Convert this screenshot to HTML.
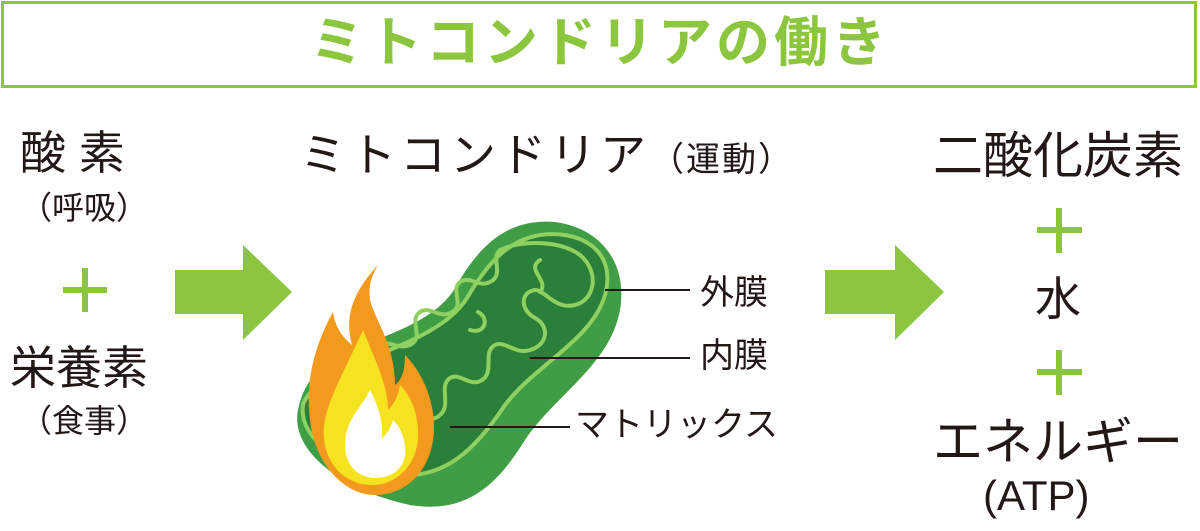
<!DOCTYPE html>
<html><head><meta charset="utf-8"><style>
html,body{margin:0;padding:0;background:#fff;}
body{width:1200px;height:531px;position:relative;overflow:hidden;font-family:"Liberation Sans","Noto Sans CJK JP",sans-serif;color:#231815;}
.t{position:absolute;white-space:nowrap;line-height:1;}
</style></head><body>
<div style="position:absolute;left:1px;top:1px;width:1190px;height:81px;border:3px solid #8cc63f;"></div>
<div class="t" style="left:0;width:1200px;text-align:center;top:16px;font-size:54px;font-weight:bold;color:#8cc63f;letter-spacing:4px;">ミトコンドリアの働き</div>

<div class="t" style="left:20px;top:130px;font-size:46px;">酸 素</div>
<div class="t" style="left:20px;top:192px;font-size:32px;">（呼吸）</div>
<div class="t" style="left:10px;top:345px;font-size:46px;">栄養素</div>
<div class="t" style="left:20px;top:405px;font-size:32px;">（食事）</div>
<div class="t" style="left:300px;top:132px;font-size:46px;letter-spacing:4px;">ミトコンドリア<span style="font-size:34px;letter-spacing:2px">（運動）</span></div>

<div class="t" style="left:933px;top:131px;font-size:50px;">二酸化炭素</div>
<div class="t" style="left:1035px;top:276px;font-size:46px;">水</div>
<div class="t" style="left:933px;top:417px;font-size:50px;">エネルギー</div>
<div class="t" style="left:983px;top:475px;font-size:42px;">(ATP)</div>

<div class="t" style="left:700px;top:276px;font-size:34px;">外膜</div>
<div class="t" style="left:700px;top:339px;font-size:34px;">内膜</div>
<div class="t" style="left:575px;top:408px;font-size:34px;">マトリックス</div>

<svg width="1200" height="531" style="position:absolute;left:0;top:0">
<g stroke="#8cc63f" stroke-width="6">
<line x1="63" y1="290" x2="107" y2="290"/><line x1="85" y1="268" x2="85" y2="312"/>
<line x1="1037" y1="230" x2="1082" y2="230"/><line x1="1059" y1="208" x2="1059" y2="253"/>
<line x1="1037" y1="372" x2="1082" y2="372"/><line x1="1059" y1="350" x2="1059" y2="395"/>
</g>
<polygon fill="#8cc63f" points="175,270 243,270 243,245 292,292 243,340 243,314 175,314"/>
<polygon fill="#8cc63f" points="825,270 895,270 895,245 944,292 895,340 895,314 825,314"/>

<path fill="#3f9e45" d="M298,410 C290,450 340,490 410,505 C470,515 500,480 525,440 C555,395 610,365 620,310 C628,262 600,228 555,222 C505,218 478,248 455,288 C435,322 385,335 340,355 C312,370 302,390 298,410 Z"/>
<path fill="#2a7f3a" stroke="#8fd060" stroke-width="4" d="M303,405 C298,440 345,470 400,475 C445,478 475,450 505,405 C535,365 592,340 605,295 C615,258 592,235 553,234 C512,234 488,262 467,298 C447,330 400,345 352,366 C322,380 307,392 303,405 Z"/>
<g fill="none" stroke="#8fd060" stroke-width="4" stroke-linecap="round" stroke-linejoin="round">
<path d="M500,250 C520,240 560,240 580,255 C600,272 595,300 575,305 C555,310 545,290 535,290 C520,292 520,310 535,318 C550,326 548,345 530,350 C515,355 505,340 495,345 C482,352 495,372 482,380 C470,388 460,372 450,378 C438,386 452,405 440,415 C430,425 420,410 412,418"/>
<path d="M500,250 C490,258 505,275 490,282 C478,288 470,275 460,282 C450,290 465,305 452,312 C440,320 430,305 420,312 C408,320 425,338 410,345 C398,350 390,340 382,345 C372,352 385,370 372,375"/>
<path d="M540,260 C525,270 550,280 540,292 M470,330 C485,335 490,318 478,312"/>
</g>
<g stroke="#231815" stroke-width="2">
<line x1="605" y1="290" x2="690" y2="290"/>
<line x1="530" y1="358" x2="690" y2="358"/>
<line x1="450" y1="427" x2="570" y2="427"/>
</g>
<path fill="#f39a1e" d="M378,265 C350,295 345,320 352,345 C340,335 335,325 333,312 C315,345 305,380 310,420 C315,465 345,495 375,495 C410,495 435,465 434,425 C433,395 420,370 405,355 C405,370 402,380 395,385 C395,345 375,320 370,300 C368,285 372,275 378,265 Z"/>
<path fill="#f5e31f" d="M363,330 C345,370 330,395 325,420 C318,455 340,485 372,485 C400,485 420,460 418,430 C417,410 410,395 400,385 C398,398 393,405 388,410 C388,385 375,360 363,330 Z"/>
<path fill="#fff" d="M370,390 C360,410 345,420 345,445 C345,465 358,478 375,478 C395,478 408,465 405,445 C403,432 398,425 393,420 C390,430 386,435 382,438 C383,420 378,405 370,390 Z"/>
</svg>
</body></html>
